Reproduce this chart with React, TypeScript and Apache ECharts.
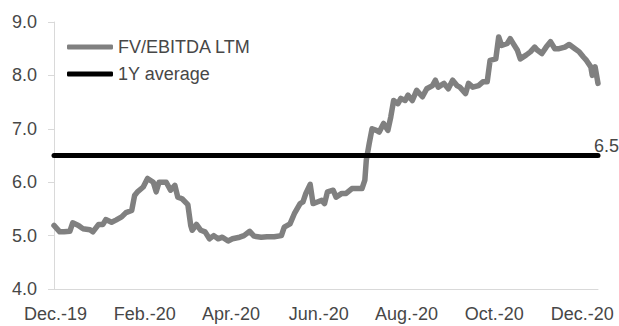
import React, { useEffect, useRef } from "react";
import * as echarts from "echarts";

// FV/EBITDA LTM multiple, sampled dates (YYYY-MM-DD) and values
const dates: string[] = [
  "2019-11-30", "2019-12-04", "2019-12-07", "2019-12-11", "2019-12-13", "2019-12-17",
  "2019-12-20", "2019-12-25", "2019-12-27", "2019-12-31", "2020-01-03", "2020-01-05",
  "2020-01-09", "2020-01-12", "2020-01-16", "2020-01-19", "2020-01-23", "2020-01-25",
  "2020-01-27", "2020-01-31", "2020-02-03", "2020-02-07", "2020-02-09", "2020-02-11",
  "2020-02-16", "2020-02-19", "2020-02-22", "2020-02-24", "2020-02-27", "2020-03-02",
  "2020-03-04", "2020-03-05", "2020-03-08", "2020-03-11", "2020-03-14", "2020-03-17",
  "2020-03-20", "2020-03-23", "2020-03-26", "2020-03-30", "2020-04-02", "2020-04-07",
  "2020-04-10", "2020-04-14", "2020-04-17", "2020-04-22", "2020-04-26", "2020-05-01",
  "2020-05-06", "2020-05-08", "2020-05-12", "2020-05-15", "2020-05-19", "2020-05-21",
  "2020-05-23", "2020-05-26", "2020-05-28", "2020-05-31", "2020-06-03", "2020-06-05",
  "2020-06-07", "2020-06-11", "2020-06-13", "2020-06-17", "2020-06-20", "2020-06-24",
  "2020-06-27", "2020-07-01", "2020-07-03", "2020-07-04", "2020-07-06", "2020-07-08",
  "2020-07-11", "2020-07-13", "2020-07-16", "2020-07-19", "2020-07-21", "2020-07-23",
  "2020-07-26", "2020-07-28", "2020-07-31", "2020-08-02", "2020-08-05", "2020-08-08",
  "2020-08-12", "2020-08-15", "2020-08-19", "2020-08-21", "2020-08-23", "2020-08-27",
  "2020-08-30", "2020-09-02", "2020-09-05", "2020-09-07", "2020-09-11", "2020-09-13",
  "2020-09-16", "2020-09-20", "2020-09-23", "2020-09-26", "2020-09-28", "2020-10-02",
  "2020-10-04", "2020-10-06", "2020-10-10", "2020-10-12", "2020-10-14", "2020-10-17",
  "2020-10-19", "2020-10-23", "2020-10-26", "2020-10-29", "2020-10-31", "2020-11-03",
  "2020-11-06", "2020-11-09", "2020-11-12", "2020-11-15", "2020-11-19", "2020-11-22",
  "2020-11-26", "2020-11-29", "2020-12-02", "2020-12-04", "2020-12-07", "2020-12-08",
  "2020-12-10", "2020-12-12",
];

const fvEbitda: number[] = [
  5.19, 5.07, 5.07, 5.08, 5.24, 5.19,
  5.13, 5.11, 5.07, 5.21, 5.21, 5.30,
  5.25, 5.29, 5.35, 5.43, 5.47, 5.75,
  5.82, 5.91, 6.07, 6.00, 5.82, 6.00,
  6.00, 5.85, 5.94, 5.72, 5.69, 5.58,
  5.19, 5.10, 5.21, 5.10, 5.07, 4.94,
  5.00, 4.94, 4.97, 4.90, 4.94, 4.97,
  5.00, 5.08, 4.99, 4.97, 4.98, 4.98,
  5.00, 5.16, 5.22, 5.41, 5.60, 5.63,
  5.79, 5.96, 5.60, 5.63, 5.66, 5.60,
  5.82, 5.85, 5.72, 5.79, 5.79, 5.88,
  5.88, 5.88, 6.04, 6.41, 6.72, 7.00,
  6.97, 6.94, 7.10, 6.97, 7.22, 7.53,
  7.47, 7.57, 7.53, 7.63, 7.53, 7.72,
  7.60, 7.75, 7.81, 7.91, 7.78, 7.85,
  7.75, 7.91, 7.81, 7.78, 7.66, 7.85,
  7.78, 7.81, 7.88, 7.88, 8.28, 8.31,
  8.72, 8.56, 8.60, 8.69, 8.60, 8.47,
  8.31, 8.38, 8.44, 8.53, 8.47, 8.41,
  8.53, 8.63, 8.50, 8.50, 8.53, 8.58,
  8.50, 8.44, 8.34, 8.28, 8.16, 8.00,
  8.16, 7.85,
];

// One-year average of the multiple
const oneYearAverage = 6.5;

// Axis ticks
const xTickDates: string[] = [
  "2019-12-01", "2020-02-01", "2020-04-01", "2020-06-01",
  "2020-08-01", "2020-10-01", "2020-12-01",
];
const xTickLabels: string[] = [
  "Dec.-19", "Feb.-20", "Apr.-20", "Jun.-20", "Aug.-20", "Oct.-20", "Dec.-20",
];
const yMin = 4;
const yMax = 9;
const yStep = 1;

const seriesNames = ["FV/EBITDA LTM", "1Y average"];

const toTime = (s: string): number => {
  const [y, m, d] = s.split("-").map(Number);
  return new Date(y, m - 1, d).getTime();
};

const FONT = "'Liberation Sans', Arial, sans-serif";
const TEXT = "#474747";
const AXIS = "#d9d9d9";

export default function App() {
  const ref = useRef<HTMLDivElement>(null);

  useEffect(() => {
    if (!ref.current) return;
    const chart = echarts.init(ref.current, undefined, { renderer: "svg" });

    const times = dates.map(toTime);
    const tickTimes = xTickDates.map(toTime);
    const first = times[0];
    const last = times[times.length - 1];

    chart.setOption({
      animation: false,
      backgroundColor: "#ffffff",
      textStyle: { fontFamily: FONT },
      grid: { left: 54, right: 21, top: 22, bottom: 37, containLabel: false },
      legend: {
        orient: "vertical",
        left: 67,
        top: 38,
        padding: 0,
        itemGap: 9,
        itemWidth: 46,
        itemHeight: 5,
        icon: "roundRect",
        data: seriesNames,
        textStyle: {
          fontFamily: FONT,
          fontSize: 18,
          lineHeight: 18,
          color: TEXT,
        },
      },
      xAxis: {
        // dates are plotted as timestamps on a linear axis
        type: "value",
        min: first,
        max: last,
        axisLine: { show: true, lineStyle: { color: AXIS, width: 1 } },
        axisTick: { show: false },
        splitLine: { show: false },
        axisLabel: {
          customValues: tickTimes,
          margin: 16,
          fontFamily: FONT,
          fontSize: 18,
          color: TEXT,
          formatter: (v: number) => {
            const i = tickTimes.indexOf(v);
            return i >= 0 ? xTickLabels[i] : "";
          },
        },
      },
      yAxis: {
        type: "value",
        min: yMin,
        max: yMax,
        interval: yStep,
        axisLine: { show: true, lineStyle: { color: AXIS, width: 1 } },
        axisTick: { show: true, length: 6, lineStyle: { color: AXIS } },
        splitLine: { show: false },
        axisLabel: {
          margin: 17,
          fontFamily: FONT,
          fontSize: 18,
          color: TEXT,
          formatter: (v: number) => v.toFixed(1),
        },
      },
      series: [
        {
          name: seriesNames[0],
          type: "line",
          data: times.map((t, i) => [t, fvEbitda[i]]),
          showSymbol: false,
          symbol: "none",
          color: "#808080",
          itemStyle: { color: "#808080" },
          lineStyle: { color: "#808080", width: 5.5, cap: "round", join: "round" },
          z: 2,
        },
        {
          name: seriesNames[1],
          type: "line",
          data: [
            [first, oneYearAverage],
            [last, oneYearAverage],
          ],
          showSymbol: false,
          symbol: "none",
          color: "#000000",
          itemStyle: { color: "#000000" },
          lineStyle: { color: "#000000", width: 5, cap: "round" },
          z: 3,
          endLabel: {
            show: true,
            offset: [-12, -10],
            fontFamily: FONT,
            fontSize: 18,
            color: TEXT,
            formatter: (p: any) => Number(p.value[1]).toFixed(1),
          },
        },
      ],
    });

    return () => chart.dispose();
  }, []);

  return (
    <div
      ref={ref}
      style={{ position: "absolute", left: 0, top: 0, width: 619, height: 326 }}
    />
  );
}
